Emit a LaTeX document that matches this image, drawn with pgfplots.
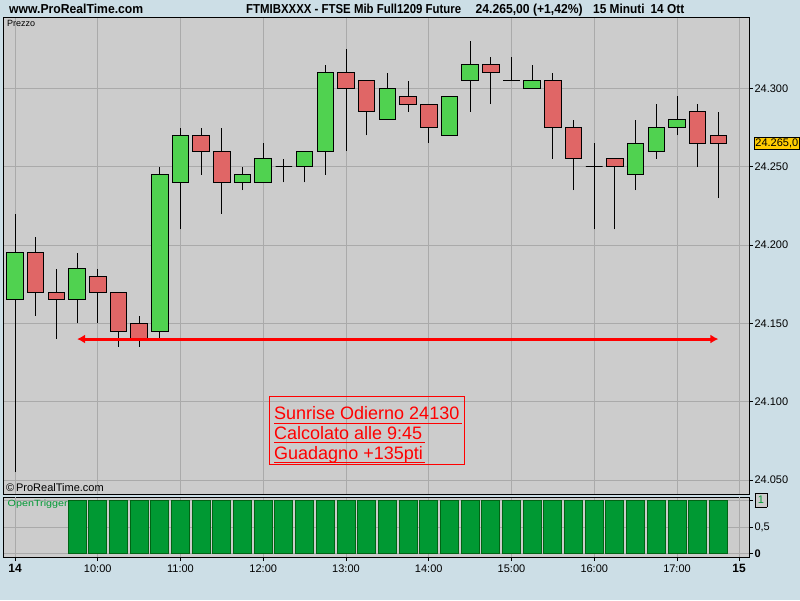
\documentclass[border=0pt]{standalone}
\usepackage{fontspec}
\setmainfont{Liberation Sans}
\usepackage{graphicx}
\usepackage{pgfplots}
\pgfplotsset{compat=1.18}
\usetikzlibrary{arrows.meta}
\definecolor{bgblue}{RGB}{204,222,230}
\definecolor{panel}{RGB}{204,204,204}
\definecolor{gridc}{RGB}{170,170,170}
\definecolor{dayc}{RGB}{125,125,125}
\definecolor{cgreen}{RGB}{80,210,80}
\definecolor{cred}{RGB}{224,102,102}
\definecolor{trig}{RGB}{0,153,51}
\definecolor{trigd}{RGB}{0,100,20}
\definecolor{tagc}{RGB}{255,204,0}
% \candle{t}{open}{high}{low}{close}{colour}
\newcommand{\candle}[6]{%
  \pgfmathsetmacro\tl{#1-0.1}\pgfmathsetmacro\tr{#1+0.1}%
  \addplot[black, line width=1pt] coordinates {(#1,#4) (#1,#3)};%
  \edef\doit{\noexpand\addplot[draw=black, fill=#6, line width=1pt] coordinates {(\tl,#2) (\tr,#2) (\tr,#5) (\tl,#5)} -- cycle;}\doit}
\begin{document}
\begin{tikzpicture}[x=1pt,y=1pt]
\fill[bgblue] (0,0) rectangle (800,600);
% ---------------- main price panel
\begin{axis}[
  at={(4pt,106pt)}, anchor=south west, scale only axis,
  width=745pt, height=476pt,
  xmin=8.867, xmax=17.870, ymin=24041.1, ymax=24344.9,
  axis background/.style={fill=panel},
  axis line style={black, line width=1pt},
  xtick={10,11,...,17}, xticklabels={}, xtick style={draw=none},
  extra x ticks={9,17.75}, extra x tick labels={},
  extra x tick style={grid style={dayc, line width=1pt}, xtick style={draw=none}},
  ytick={24050,24100,...,24300}, ytick pos=right, yticklabel pos=right,
  tick align=outside, major tick length=4pt,
  ytick style={black, line width=1pt},
  grid=major, major grid style={gridc, line width=1pt},
  scaled y ticks=false,
  /pgf/number format/.cd, 1000 sep={.}, assume math mode=true, /pgfplots/.cd,
  yticklabel style={font=\fontsize{11}{11}\selectfont, anchor=west, xshift=-2pt},
  clip=false,
]
\candle{9.00}{24165}{24220}{24055}{24195}{cgreen}
\candle{9.25}{24195}{24205}{24155}{24170}{cred}
\candle{9.50}{24170}{24185}{24140}{24165}{cred}
\candle{9.75}{24165}{24195}{24150}{24185}{cgreen}
\candle{10.00}{24180}{24185}{24150}{24170}{cred}
\candle{10.25}{24170}{24170}{24135}{24145}{cred}
\candle{10.50}{24150}{24155}{24135}{24140}{cred}
\candle{10.75}{24145}{24250}{24140}{24245}{cgreen}
\candle{11.00}{24240}{24275}{24210}{24270}{cgreen}
\candle{11.25}{24270}{24275}{24245}{24260}{cred}
\candle{11.50}{24260}{24275}{24220}{24240}{cred}
\candle{11.75}{24240}{24250}{24235}{24245}{cgreen}
\candle{12.00}{24240}{24265}{24240}{24255}{cgreen}
\candle{12.25}{24250}{24255}{24240}{24250}{cgreen}
\candle{12.50}{24250}{24260}{24240}{24260}{cgreen}
\candle{12.75}{24260}{24315}{24245}{24310}{cgreen}
\candle{13.00}{24310}{24325}{24260}{24300}{cred}
\candle{13.25}{24305}{24305}{24270}{24285}{cred}
\candle{13.50}{24280}{24310}{24280}{24300}{cgreen}
\candle{13.75}{24295}{24305}{24285}{24290}{cred}
\candle{14.00}{24290}{24290}{24265}{24275}{cred}
\candle{14.25}{24270}{24295}{24270}{24295}{cgreen}
\candle{14.50}{24305}{24330}{24285}{24315}{cgreen}
\candle{14.75}{24315}{24320}{24290}{24310}{cred}
\candle{15.00}{24305}{24320}{24305}{24305}{cgreen}
\candle{15.25}{24300}{24315}{24300}{24305}{cgreen}
\candle{15.50}{24305}{24310}{24255}{24275}{cred}
\candle{15.75}{24275}{24280}{24235}{24255}{cred}
\candle{16.00}{24250}{24265}{24210}{24250}{cgreen}
\candle{16.25}{24255}{24255}{24210}{24250}{cred}
\candle{16.50}{24245}{24280}{24235}{24265}{cgreen}
\candle{16.75}{24260}{24290}{24255}{24275}{cgreen}
\candle{17.00}{24275}{24295}{24270}{24280}{cgreen}
\candle{17.25}{24285}{24290}{24250}{24265}{cred}
\candle{17.50}{24270}{24285}{24230}{24265}{cred}
% red arrow
\addplot[red, line width=3pt, {Latex[length=8pt,width=9pt]}-{Latex[length=8pt,width=9pt]}] coordinates {(9.75,24140) (17.5,24140)};
% price tag
\node[anchor=west, fill=tagc, draw=black, line width=0.8pt, inner xsep=1pt, inner ysep=1.5pt, font=\fontsize{11}{11}\selectfont] at (axis cs:17.870,24265) [xshift=5pt] {24.265,0};
\end{axis}
% ---------------- lower indicator panel
\begin{axis}[
  at={(4pt,43pt)}, anchor=south west, scale only axis,
  width=745pt, height=60pt,
  xmin=8.867, xmax=17.870, ymin=-0.056, ymax=1.056,
  axis background/.style={fill=panel},
  axis line style={black, line width=1pt},
  xtick={10,11,...,17},
  xticklabels={10:00,11:00,12:00,13:00,14:00,15:00,16:00,17:00},
  extra x ticks={9,17.75}, extra x tick labels={\textbf{\fontsize{12}{12}\selectfont 14},\textbf{\fontsize{12}{12}\selectfont 15}},
  extra x tick style={grid style={dayc, line width=1pt}},
  xtick pos=bottom, ytick pos=right, yticklabel pos=right,
  ytick={0,0.5,1},
  yticklabels={\textbf{0},{0,5},{\fcolorbox{black}{panel}{\textcolor{trig}{1}}}},
  tick align=outside, major tick length=4pt,
  tick style={black, line width=1pt},
  grid=major, major grid style={gridc, line width=1pt},
  xticklabel style={font=\fontsize{11}{11}\selectfont},
  yticklabel style={font=\fontsize{11}{11}\selectfont, anchor=west, xshift=-2pt},
  clip=false,
]
\addplot[ybar, bar width=0.2175, fill=trig, draw=trigd, line width=1pt] coordinates {
(9.75,1) (10.00,1) (10.25,1) (10.50,1) (10.75,1) (11.00,1) (11.25,1) (11.50,1)
(11.75,1) (12.00,1) (12.25,1) (12.50,1) (12.75,1) (13.00,1) (13.25,1) (13.50,1)
(13.75,1) (14.00,1) (14.25,1) (14.50,1) (14.75,1) (15.00,1) (15.25,1) (15.50,1)
(15.75,1) (16.00,1) (16.25,1) (16.50,1) (16.75,1) (17.00,1) (17.25,1) (17.50,1)};
\end{axis}
% ---------------- texts
\node[anchor=base west, inner sep=0, font=\bfseries\fontsize{13}{13}\selectfont] at (9,586) {\resizebox{134pt}{\height}{www.ProRealTime.com}};
\node[anchor=base west, inner sep=0, font=\bfseries\fontsize{13}{13}\selectfont] at (246,586) {\resizebox{215pt}{\height}{FTMIBXXXX - FTSE Mib Full1209 Future}};
\node[anchor=base west, inner sep=0, font=\bfseries\fontsize{13}{13}\selectfont] at (475.5,586) {\resizebox{107pt}{\height}{24.265,00 (+1,42\%)}};
\node[anchor=base west, inner sep=0, font=\bfseries\fontsize{13}{13}\selectfont] at (593,586) {\resizebox{91pt}{\height}{15 Minuti\hspace{0.5em}14 Ott}};
\node[anchor=base west, inner sep=0, font=\fontsize{9}{9}\selectfont] at (7,573) {Prezzo};
\node[anchor=west, inner sep=0, font=\fontsize{11}{11}\selectfont] at (6,112.7) {\textcopyright\,ProRealTime.com};
\node[anchor=west, inner sep=0, font=\fontsize{9}{9}\selectfont, text=trig] at (7.5,96) {\resizebox{60pt}{\height}{OpenTrigger}};
% annotation box
\draw[red, line width=1pt] (269,203) rectangle (464,136);
\begin{scope}[every node/.style={anchor=base west, inner sep=0, text=red, font=\fontsize{18}{18}\selectfont}]
\node (l1) at (274,180) {Sunrise Odierno 24130};
\node (l2) at (274,160.5) {Calcolato alle 9:45};
\node (l3) at (274,141) {Guadagno +135pti};
\end{scope}
\draw[red, line width=1pt] ([yshift=-3.3pt]l1.base west) -- ([yshift=-3.3pt,xshift=2pt]l1.base east);
\draw[red, line width=1pt] ([yshift=-3.3pt]l2.base west) -- ([yshift=-3.3pt,xshift=2pt]l2.base east);
\draw[red, line width=1pt] ([yshift=-3.3pt]l3.base west) -- ([yshift=-3.3pt,xshift=2pt]l3.base east);
\end{tikzpicture}
\end{document}
